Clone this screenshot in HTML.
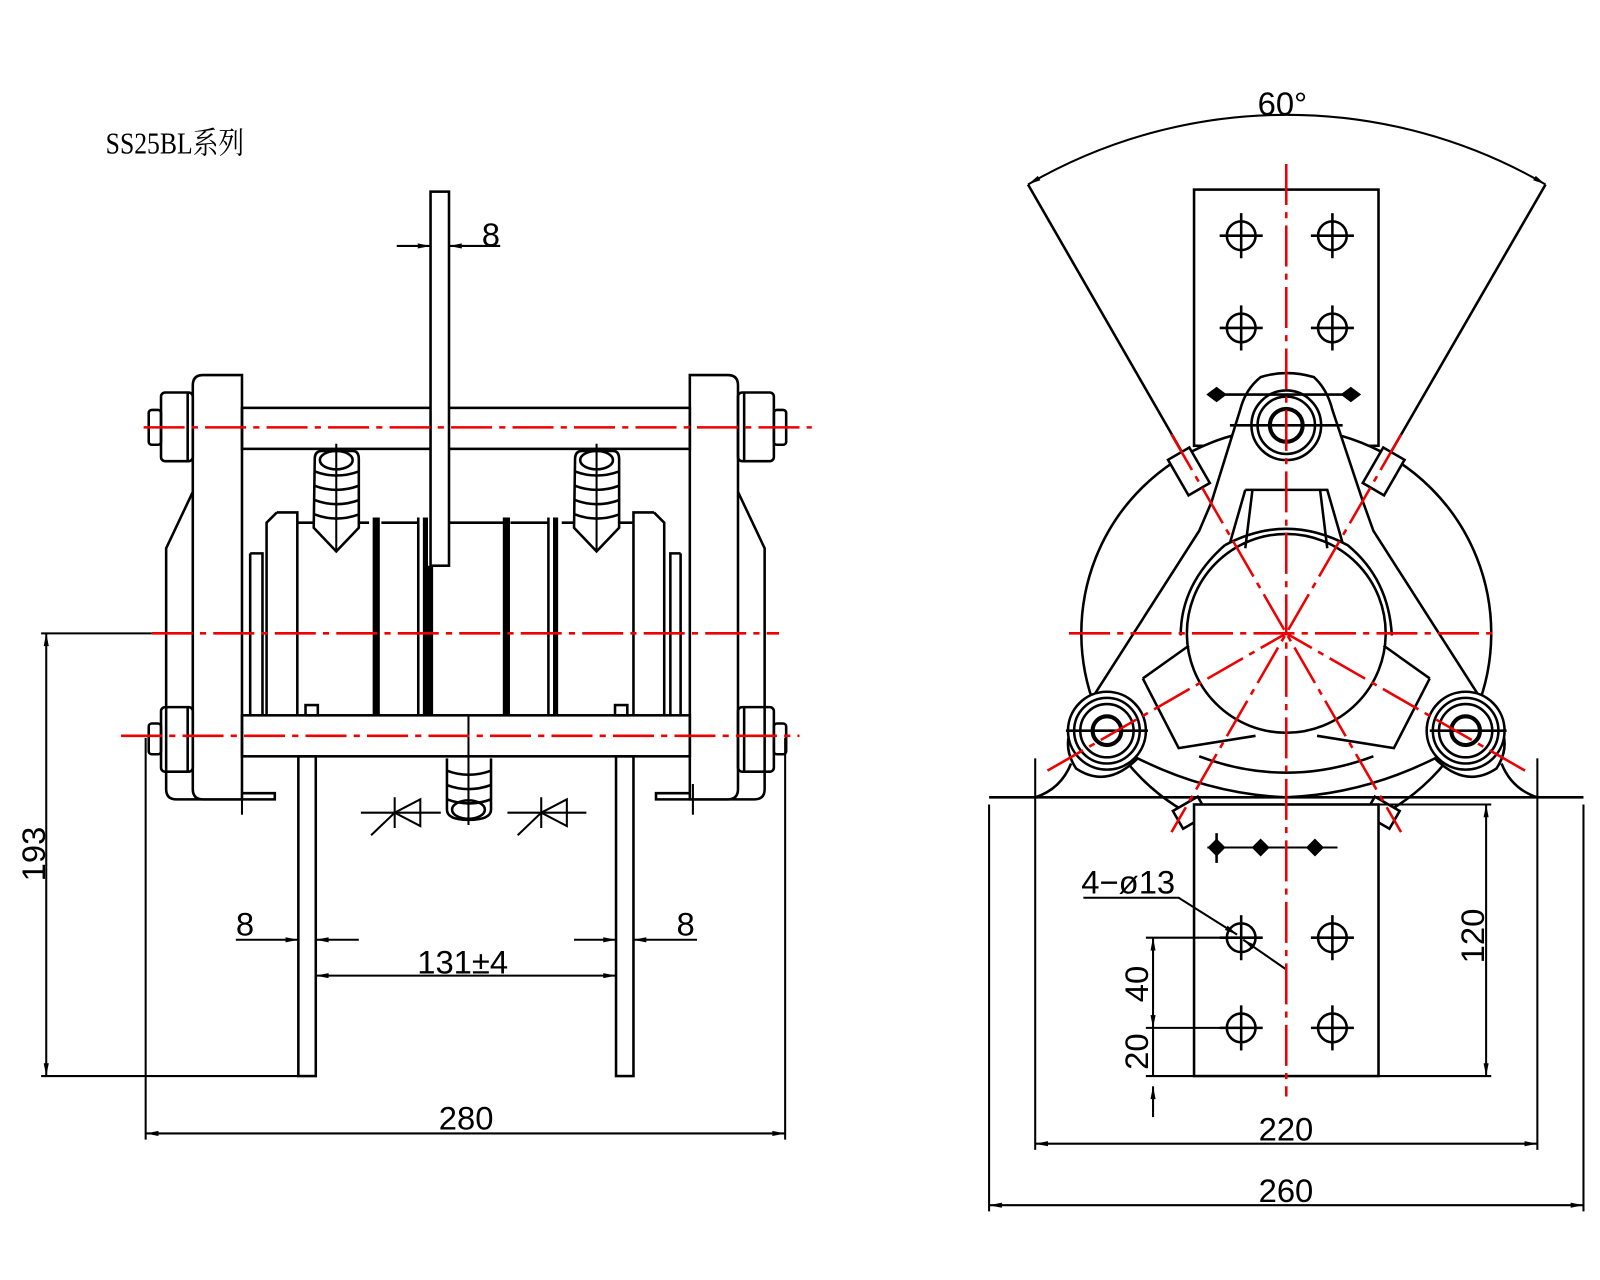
<!DOCTYPE html>
<html><head><meta charset="utf-8"><style>
html,body{margin:0;padding:0;background:#fff}
svg{display:block}
text{font-family:"Liberation Sans Narrow","Liberation Sans",sans-serif;fill:#000}
</style></head><body>
<svg width="1600" height="1280" viewBox="0 0 1561 1249" xmlns="http://www.w3.org/2000/svg">
<defs>
<marker id="a" viewBox="0 0 10 4" refX="10" refY="2" markerWidth="14" markerHeight="5" orient="auto-start-reverse" markerUnits="userSpaceOnUse"><path d="M0,0L10,2L0,4z" fill="#000"/></marker>
</defs>
<rect width="1561" height="1249" fill="#fff"/>
<text x="103" y="150" font-size="30" style="font-family:'Liberation Serif','Noto Serif CJK SC',serif" textLength="135" lengthAdjust="spacingAndGlyphs">SS25BL系列</text>

<g stroke="#000" stroke-width="2.5" fill="none">
<!-- LEFT VIEW -->
<path d="M188,480 L162,535 L162,770 Q162,780 172,780 L268,780 L268,774 L190,774"/>
<path d="M720,480 L746,535 L746,770 Q746,780 736,780 L640,780 L640,774 L718,774"/>
<path d="M198,366 L236,366 L236,780 L198,780 Q188,780 188,770 L188,376 Q188,366 198,366z" fill="#fff"/>
<path d="M710,366 L673,366 L673,780 L710,780 Q720,780 720,770 L720,376 Q720,366 710,366z" fill="#fff"/>
<rect x="236" y="398" width="437" height="40"/>
<rect x="236" y="698" width="437" height="40"/>
<rect x="157" y="383" width="31" height="67" rx="4"/><rect x="145" y="400" width="12" height="34" rx="3"/><line x1="183" y1="383" x2="183" y2="450"/>
<rect x="720" y="383" width="35" height="67" rx="4"/><rect x="755" y="400" width="12" height="34" rx="3"/><line x1="726" y1="383" x2="726" y2="450"/>
<rect x="157" y="690" width="31" height="63" rx="4"/><rect x="145" y="706" width="12" height="30" rx="3"/><line x1="183" y1="690" x2="183" y2="753"/>
<rect x="720" y="690" width="35" height="63" rx="4"/><rect x="755" y="706" width="12" height="30" rx="3"/><line x1="726" y1="690" x2="726" y2="753"/>
<path d="M244,540 L244,698 M244,540 L256,540 L256,698"/>
<path d="M664,540 L664,698 M664,540 L654,540 L654,698"/>
<path d="M270,500 L260,510 L260,698 M270,500 L290,500 L290,698 M290,510 L360,510"/>
<path d="M638,500 L648,510 L648,698 M638,500 L618,500 L618,698 M618,510 L548,510"/>
<line x1="367" y1="505" x2="367" y2="698" stroke-width="7"/>
<line x1="408" y1="505" x2="408" y2="698"/>
<line x1="415" y1="505" x2="415" y2="698" stroke-width="5"/>
<line x1="420" y1="552" x2="420" y2="698" stroke-width="5"/>
<line x1="494" y1="505" x2="494" y2="698" stroke-width="7"/>
<line x1="535" y1="505" x2="535" y2="698"/>
<line x1="542" y1="505" x2="542" y2="698" stroke-width="5"/>
<line x1="438" y1="510" x2="494" y2="510"/>
<line x1="372" y1="510" x2="408" y2="510"/>
<line x1="498" y1="510" x2="535" y2="510"/>
<rect x="298" y="688" width="12" height="10"/><rect x="600" y="688" width="12" height="10"/>
<rect x="420" y="187" width="18" height="365" fill="#fff"/>
<g id="h1"><path d="M307,448 Q307,440 314,440 L344,440 Q350,440 350,448 L350,515 L328,538 L306,515z" fill="#fff"/>
<path d="M307,460 Q328,468 350,460 M307,474 Q328,482 350,474 M307,488 Q328,496 350,488 M307,502 Q328,510 350,502"/>
<ellipse cx="328" cy="449" rx="16" ry="9"/><line x1="328" y1="433" x2="328" y2="538" stroke-width="2"/></g>
<use href="#h1" x="254"/>
<path d="M436,740 L436,790 Q436,800 457,800 Q479,800 479,790 L479,740" fill="#fff"/>
<path d="M436,752 Q457,760 479,752 M436,766 Q457,774 479,766 M436,780 Q457,788 479,780"/>
<ellipse cx="457" cy="790" rx="16" ry="9"/>
<line x1="457" y1="698" x2="457" y2="805" stroke-width="2"/>
<rect x="291" y="738" width="17" height="312"/>
<rect x="601" y="738" width="17" height="312"/>
<g stroke-width="2"><line x1="352" y1="793" x2="430" y2="793"/><path d="M385,793 L410,780 L410,806z M385,778 L385,808 M362,815 L385,793"/>
<line x1="495" y1="793" x2="572" y2="793"/><path d="M528,793 L553,780 L553,806z M528,778 L528,808 M505,815 L528,793"/></g>
<line x1="236" y1="765" x2="236" y2="795" stroke-width="2"/><line x1="676" y1="765" x2="676" y2="795" stroke-width="2"/>

<g stroke-width="2">
<line x1="387" y1="240" x2="420" y2="240" marker-end="url(#a)"/>
<line x1="488" y1="240" x2="438" y2="240" marker-end="url(#a)"/>
<line x1="40" y1="618" x2="148" y2="618"/>
<line x1="40" y1="1050" x2="290" y2="1050"/>
<line x1="45" y1="618" x2="45" y2="1050" marker-start="url(#a)" marker-end="url(#a)"/>
<line x1="230" y1="917" x2="291" y2="917" marker-end="url(#a)"/>
<line x1="350" y1="917" x2="308" y2="917" marker-end="url(#a)"/>
<line x1="560" y1="917" x2="601" y2="917" marker-end="url(#a)"/>
<line x1="680" y1="917" x2="618" y2="917" marker-end="url(#a)"/>
<line x1="308" y1="952" x2="601" y2="952" marker-start="url(#a)" marker-end="url(#a)"/>
<line x1="142" y1="720" x2="142" y2="1112"/>
<line x1="766" y1="720" x2="766" y2="1112"/>
<line x1="142" y1="1106" x2="766" y2="1106" marker-start="url(#a)" marker-end="url(#a)"/>
</g>
</g>
<g stroke="#e00" stroke-width="2.5" stroke-dasharray="40,7,6,7" fill="none">
<line x1="140" y1="417" x2="792" y2="417"/>
<line x1="118" y1="718" x2="780" y2="718"/>
<line x1="148" y1="618" x2="760" y2="618"/>
</g>
<g font-size="32">
<text x="470" y="240">8</text>
<text x="230" y="913">8</text>
<text x="660" y="913">8</text>
<text x="407" y="950">131±4</text>
<text x="428" y="1102">280</text>
<text transform="translate(44,860) rotate(-90)">193</text>
</g>

<!-- RIGHT VIEW -->
<g stroke="#000" stroke-width="2.5" fill="none">
<line x1="1255" y1="618" x2="1003" y2="180"/>
<line x1="1255" y1="618" x2="1508" y2="180"/>
<path d="M1003,180 A503,503 0 0 1 1508,180" marker-start="url(#a)" marker-end="url(#a)" stroke-width="2"/>
<rect x="1165" y="185" width="180" height="250" fill="#fff"/>
<circle cx="1255" cy="618" r="200" fill="#fff"/>
<path d="M1230,368 Q1255,360 1282,368 Q1295,380 1300,400 L1330,490 L1340,518 L1450,690 Q1480,720 1460,750 Q1430,770 1400,740 Q1330,775 1255,778 Q1180,775 1110,740 Q1080,770 1050,750 Q1030,720 1060,690 L1170,518 L1182,490 L1210,400 Q1215,380 1230,368z" fill="#fff"/>
<path d="M1215,478 L1295,478 L1310,530 M1215,478 L1200,530 M1222,478 L1215,535 M1288,478 L1295,535"/>
<path d="M1115,662 L1150,730 L1225,718 M1115,662 L1160,630 M1395,662 L1360,730 L1285,718 M1395,662 L1350,630"/>
<circle cx="1255" cy="618" r="97"/>
<path d="M1195,532 Q1255,500 1315,532 Q1355,565 1358,620 M1195,532 Q1152,570 1152,620"/>
<path d="M1170,738 Q1255,770 1340,738"/>
<g fill="#fff">
<circle cx="1255" cy="415" r="34"/><circle cx="1255" cy="415" r="28"/><circle cx="1255" cy="415" r="16" stroke-width="4"/>
<circle cx="1080" cy="713" r="38"/><circle cx="1080" cy="713" r="32"/><circle cx="1080" cy="713" r="26"/><circle cx="1080" cy="713" r="14" stroke-width="4"/>
<circle cx="1430" cy="713" r="38"/><circle cx="1430" cy="713" r="32"/><circle cx="1430" cy="713" r="26"/><circle cx="1430" cy="713" r="14" stroke-width="4"/>
</g>
<line x1="1200" y1="415" x2="1310" y2="415"/>
<line x1="1040" y1="713" x2="1120" y2="713"/><line x1="1395" y1="713" x2="1470" y2="713"/>
<line x1="1187" y1="385" x2="1325" y2="385"/>
<path d="M1187,379 L1195,385 L1187,391 L1179,385z M1318,379 L1326,385 L1318,391 L1310,385z" fill="#000"/>
<g fill="#fff"><rect x="-12" y="-20" width="24" height="40" transform="translate(1160,460) rotate(-30)"/>
<rect x="-12" y="-20" width="24" height="40" transform="translate(1350,460) rotate(30)"/>
<rect x="-10" y="-18" width="20" height="28" transform="translate(1158,795) rotate(60)"/>
<rect x="-10" y="-18" width="20" height="28" transform="translate(1352,795) rotate(-60)"/></g>
<line x1="965" y1="778" x2="1545" y2="778"/>
<path d="M1010,778 Q1035,770 1045,745 M1500,778 Q1475,770 1465,745"/>
<rect x="1165" y="785" width="180" height="265" fill="#fff"/>
<path d="M1178,827 L1305,827" stroke-width="2"/>
<path d="M1187,820 L1194,827 L1187,834 L1180,827z M1230,820 L1237,827 L1230,834 L1223,827z M1283,820 L1290,827 L1283,834 L1276,827z" fill="#000"/>
<line x1="1187" y1="813" x2="1187" y2="842"/>
<g id="ho"><circle cx="1211" cy="230" r="14"/><line x1="1190" y1="230" x2="1232" y2="230"/><line x1="1211" y1="208" x2="1211" y2="252"/></g>
<use href="#ho" x="89"/><use href="#ho" y="90"/><use href="#ho" x="89" y="90"/>
<use href="#ho" y="685"/><use href="#ho" x="89" y="685"/><use href="#ho" y="773"/><use href="#ho" x="89" y="773"/>
<g stroke-width="2">
<line x1="965" y1="785" x2="965" y2="1182"/><line x1="1545" y1="785" x2="1545" y2="1182"/>
<line x1="1010" y1="740" x2="1010" y2="1122"/><line x1="1500" y1="740" x2="1500" y2="1122"/>
<line x1="1010" y1="1116" x2="1500" y2="1116" marker-start="url(#a)" marker-end="url(#a)"/>
<line x1="965" y1="1176" x2="1545" y2="1176" marker-start="url(#a)" marker-end="url(#a)"/>
<line x1="1345" y1="785" x2="1455" y2="785"/><line x1="1345" y1="1050" x2="1455" y2="1050"/>
<line x1="1450" y1="785" x2="1450" y2="1050" marker-start="url(#a)" marker-end="url(#a)"/>
<line x1="1118" y1="915" x2="1208" y2="915"/><line x1="1118" y1="1003" x2="1208" y2="1003"/><line x1="1118" y1="1050" x2="1165" y2="1050"/>
<line x1="1125" y1="915" x2="1125" y2="1003" marker-start="url(#a)" marker-end="url(#a)"/>
<line x1="1125" y1="1003" x2="1125" y2="1050"/>
<line x1="1125" y1="1060" x2="1125" y2="1090" marker-start="url(#a)"/>
<polyline points="1057,876 1150,876 1207,912" marker-end="url(#a)"/>
<line x1="1255" y1="946" x2="1213" y2="917" marker-end="url(#a)"/>
</g>
</g>
<g stroke="#e00" stroke-width="2.5" stroke-dasharray="40,7,6,7" fill="none">
<line x1="1043" y1="618" x2="1462" y2="618"/>
<line x1="1255" y1="160" x2="1255" y2="1070"/>
<line x1="1143" y1="424" x2="1367" y2="812"/>
<line x1="1367" y1="424" x2="1143" y2="812"/>
<line x1="1022" y1="752" x2="1255" y2="618"/>
<line x1="1488" y1="752" x2="1255" y2="618"/>
</g>
<g font-size="32">
<text x="1227" y="112">60°</text>
<text x="1055" y="872">4−ø13</text>
<text x="1228" y="1113">220</text>
<text x="1228" y="1173">260</text>
<text transform="translate(1448,940) rotate(-90)">120</text>
<text transform="translate(1120,978) rotate(-90)">40</text>
<text transform="translate(1120,1044) rotate(-90)">20</text>
</g>
</svg>
</body></html>
